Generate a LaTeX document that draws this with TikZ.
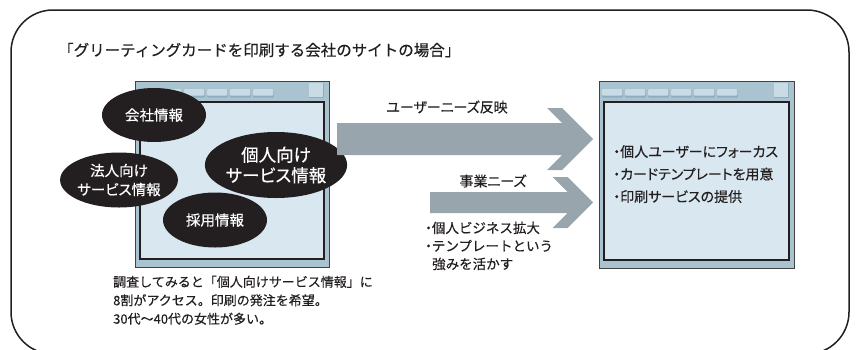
\documentclass[tikz,border=0pt]{standalone}
\usepackage{fontspec}
\setmainfont{Noto Sans CJK JP}[RawFeature=+palt, FakeBold=0.4]
\newfontfamily\fullwidthfont{Noto Sans CJK JP}[FakeBold=0.4]
\usetikzlibrary{shapes.geometric}
\definecolor{ink}{HTML}{231F20}
\definecolor{winframe}{HTML}{A9C4D0}
\definecolor{winpane}{HTML}{D9E8F0}
\definecolor{tabfill}{HTML}{C9DCE5}
\definecolor{tabshade}{HTML}{8EAEC0}
\definecolor{arrowgray}{HTML}{98A5AC}
\newcommand{\setfs}[2]{\fontsize{#1}{#2}\selectfont}
\newcommand{\nbul}{{\rmfamily ・}}
\tikzset{
  frame/.style={draw=ink, line width=1.5pt, rounded corners=42pt},
  winout/.style={draw=ink!85, line width=0.9pt, fill=winframe, inner sep=0pt, outer sep=0pt},
  winpane/.style={draw=ink, line width=1.2pt, fill=winpane, inner sep=0pt, outer sep=0pt},
  blob/.style={ellipse, fill=ink, text=white, inner sep=0pt, align=center},
  bigarrow/.style={fill=arrowgray},
  label/.style={text=ink, inner sep=0pt},
}
% name, left, top, right, bottom
\newcommand{\drawwin}[5]{%
  \node[winout, minimum width={#4-#2}, minimum height={#5-#3}] (#1) at ({(#2+#4)/2},{(#3+#5)/2}) {};
  \node[winpane, minimum width={#4-#2-10}, minimum height={#5-#3-29}] (#1-pane) at ({(#2+#4)/2},{(#3+#5+13)/2}) {};
  \foreach \i in {0,...,5} {
    \fill[tabshade, rounded corners=1pt] ({#2+3+23*\i},{#3+8.5}) rectangle ++(21,8);
    \fill[tabfill, rounded corners=1pt] ({#2+3+23*\i},{#3+8}) rectangle ++(20.3,6.6);
  }
  \fill[tabshade] ({#4-20},{#3+2}) rectangle ({#4-5},{#3+17});
  \fill[tabfill] ({#4-20},{#3+2}) rectangle ({#4-6.5},{#3+15.5});
}
\begin{document}
\begin{tikzpicture}[x=1pt, y=-1pt]
\useasboundingbox (0,0) rectangle (856,349);
\draw[frame] (11,10) rectangle (849,354);

\node[label, anchor=west] (title) at (58,50) {\fullwidthfont\setfs{15.5}{18}「グリーティングカードを印刷する会社のサイトの場合」};

\drawwin{lwin}{135}{81}{329}{267}
\drawwin{rwin}{599}{81}{794}{268}

\node[blob, minimum width=104pt, minimum height=54pt, font=\setfs{14.5}{18}] (kaisha) at (154,115) {会社情報};
\node[blob, minimum width=104pt, minimum height=55pt, font=\setfs{14.5}{19}] (houjin) at (119,180) {法人向け\\サービス情報};
\node[blob, minimum width=124pt, minimum height=66pt, font=\setfs{17.5}{20.5}] (kojin) at (276,165) {個人向け\\サービス情報};
\node[blob, minimum width=104pt, minimum height=55pt, font=\setfs{14.5}{18}] (saiyou) at (215,220) {採用情報};

\fill[bigarrow] (337,123) -- (562,123) -- (547,108) -- (562,108) -- (593,139)
  -- (562,170) -- (547,170) -- (562,155) -- (337,155) -- cycle;
\fill[bigarrow] (430,192) -- (567.5,192) -- (552.5,177) -- (567.5,177) -- (593,202.5)
  -- (567.5,228) -- (552.5,228) -- (567.5,213) -- (430,213) -- cycle;

\node[label, font=\setfs{14}{17}] (needs1) at (447,107) {ユーザーニーズ反映};
\node[label, font=\setfs{14}{17}] (needs2) at (493,181) {事業ニーズ};
\node[label, anchor=north west, align=left, font=\fullwidthfont\setfs{13.5}{18}] (biz) at (425,221.5)
  {\nbul 個人ビジネス拡大\\\nbul テンプレートという\\\hspace{7pt}強みを活かす};

\node[label, anchor=north west, align=left, font=\setfs{14}{22.5}] (plan) at (613,145)
  {・個人ユーザーにフォーカス\\・カードテンプレートを用意\\・印刷サービスの提供};

\node[label, anchor=north west, align=left, font=\fullwidthfont\setfs{13}{18.5}] (survey) at (113,275.5)
  {調査してみると「個人向けサービス情報」に\\8割がアクセス。印刷の発注を希望。\\30代～40代の女性が多い。};
\end{tikzpicture}
\end{document}
